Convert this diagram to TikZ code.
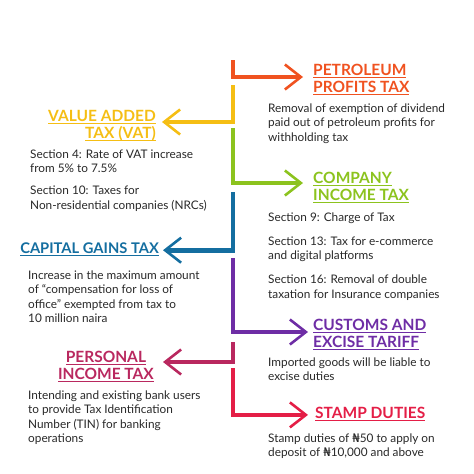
\documentclass[tikz,border=0pt]{standalone}
\usepackage{fontspec}
\setmainfont{Lato}
\newfontfamily\nairafont{DejaVu Sans}
\usetikzlibrary{arrows.meta}
\newcommand\naira{{\nairafont\char"20A6}}
\newcommand\ulw[1]{\setbox0\hbox{#1}\rlap{\rule[-3pt]{\wd0}{0.8pt}}\box0}

\begin{document}
\begin{tikzpicture}[x=1pt,y=-1pt,
  link/.style={line width=4.8pt,-{Straight Barb[length=16pt,width=25pt,line width=2.6pt]}},
  ttl/.style={font=\fontsize{15.5}{17}\selectfont\bfseries,inner sep=0pt},
  body/.style={font=\fontsize{11.8}{14.5}\selectfont,align=left,anchor=north west,inner sep=0pt,text=txt}]
\definecolor{cOr}{RGB}{240,82,32}
\definecolor{cYe}{RGB}{245,190,20}
\definecolor{cGr}{RGB}{140,195,30}
\definecolor{cBl}{RGB}{20,110,160}
\definecolor{cPu}{RGB}{110,45,165}
\definecolor{cCr}{RGB}{185,40,95}
\definecolor{cRd}{RGB}{228,30,70}
\definecolor{txt}{RGB}{40,40,40}
\useasboundingbox (0,0) rectangle (474,474);
% spine starts
\coordinate (s1) at (233,60);
\coordinate (s2) at (233,85);
\coordinate (s3) at (233,128);
\coordinate (s4) at (233,192);
\coordinate (s5) at (233,258);
\coordinate (s6) at (233,342);
\coordinate (s7) at (233,368);
% titles
\node[ttl,cOr,anchor=west,align=left] (petrol) at (313,79.4) {\ulw{PETROLEUM}\\\ulw{PROFITS TAX}};
\node[ttl,cYe,anchor=east,align=right] (vat) at (156,125.4) {\ulw{VALUE ADDED}\\\ulw{TAX (VAT)}};
\node[ttl,cGr,anchor=west,align=left] (cit) at (313,187.4) {\ulw{COMPANY}\\\ulw{INCOME TAX}};
\node[ttl,cBl,anchor=east,font=\fontsize{14.7}{17}\selectfont\bfseries] (cgt) at (159,249.2) {\ulw{CAPITAL GAINS TAX}};
\node[ttl,cPu,anchor=west,align=left] (customs) at (313,334.4) {\ulw{CUSTOMS AND}\\\ulw{EXCISE TARIFF}};
\node[ttl,cCr,anchor=east,align=center] (pit) at (154,366.4) {\ulw{PERSONAL}\\\ulw{INCOME TAX}};
\node[ttl,cRd,anchor=west] (stamp) at (315,413.9) {\ulw{STAMP DUTIES}};
% notes
\node[body] (petrolTxt) at (268,103.3) {Removal of exemption of dividend\\paid out of petroleum profits for\\withholding tax};
\node[body] (vatTxt) at (30,149.3) {Section 4: Rate of VAT increase\\from 5\% to 7.5\%\\[7.5pt]Section 10: Taxes for\\Non-residential companies (NRCs)};
\node[body] (citTxt) at (268,212.3) {Section 9: Charge of Tax\\[9.5pt]Section 13: Tax for e-commerce\\and digital platforms\\[9.5pt]Section 16: Removal of double\\taxation for Insurance companies};
\node[body] (cgtTxt) at (28,270.3) {Increase in the maximum amount\\of ``compensation for loss of\\office'' exempted from tax to\\10 million naira};
\node[body] (customsTxt) at (268,357.3) {Imported goods will be liable to\\excise duties};
\node[body] (pitTxt) at (28,390.3) {Intending and existing bank users\\to provide Tax Identification\\Number (TIN) for banking\\operations};
\node[body] (stampTxt) at (268,433.3) {Stamp duties of \naira50 to apply on\\deposit of \naira10,000 and above};
% connectors
\draw[link,cOr,shorten >=10pt] (s1) |- ([yshift=2.4pt]petrol.west);
\draw[link,cYe,shorten >=6pt] (s2) |- ([yshift=3.4pt]vat.east);
\draw[link,cGr,shorten >=10pt] (s3) |- ([yshift=4.4pt]cit.west);
\draw[link,cBl,shorten >=4pt] (s4) |- ([yshift=-1pt]cgt.east);
\draw[link,cPu,shorten >=5pt] (s5) |- ([yshift=2.4pt]customs.west);
\draw[link,cCr,shorten >=9pt] (s6) |- ([yshift=4.4pt]pit.east);
\draw[link,cRd,shorten >=7pt] (s7) |- ([yshift=-1pt]stamp.west);
\end{tikzpicture}
\end{document}
